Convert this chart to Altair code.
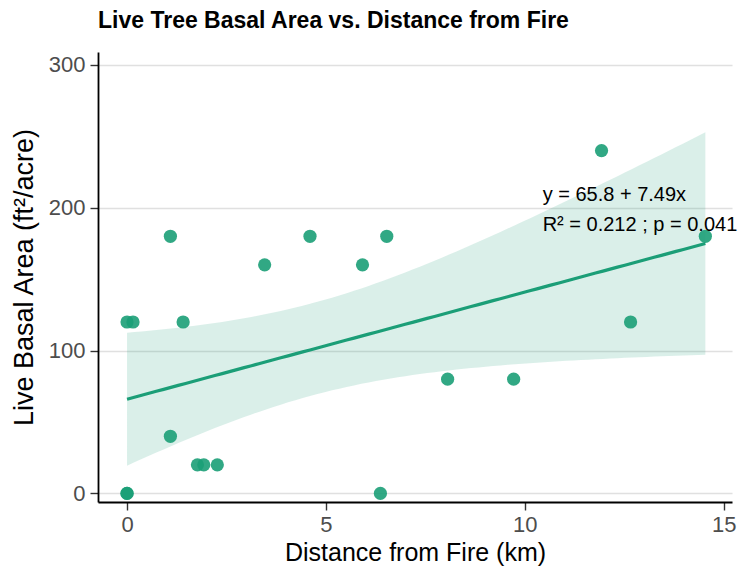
import altair as alt
import numpy as np
import pandas as pd

# ---- data ----
distance_km = [0.0, 0.0, 0.15, 0.0, 1.09, 1.09, 1.41, 1.77, 1.93, 2.27,
               3.46, 4.60, 5.92, 6.37, 6.53, 8.06, 9.72, 11.93, 12.66, 14.54]
basal_area = [0, 120, 120, 0, 180, 40, 120, 20, 20, 20,
              160, 180, 160, 0, 180, 80, 80, 240, 120, 180]

eq_labels = ["y = 65.8 + 7.49x", "R\u00b2 = 0.212 ; p = 0.041"]
eq_x = [10.45, 10.45]
eq_y = [205, 184]

x_ticks = [0, 5, 10, 15]
y_ticks = [0, 100, 200, 300]

GREEN = "#1b9e77"
FONT = "Liberation Sans"

# ---- linear fit with 95% confidence band (like geom_smooth(method="lm")) ----
x = np.array(distance_km, dtype=float)
y = np.array(basal_area, dtype=float)
n = len(x)
b1, b0 = np.polyfit(x, y, 1)
resid = y - (b0 + b1 * x)
s = np.sqrt((resid ** 2).sum() / (n - 2))
sxx = ((x - x.mean()) ** 2).sum()
xs = np.linspace(x.min(), x.max(), 80)
fit = b0 + b1 * xs
t_crit = 2.1009  # t(0.975, df=18)
se = s * np.sqrt(1.0 / n + (xs - x.mean()) ** 2 / sxx)
band_df = pd.DataFrame({"x": xs, "fit": fit, "lo": fit - t_crit * se, "hi": fit + t_crit * se})

pts_df = pd.DataFrame({"distance": distance_km, "basal": basal_area})
eq_df = pd.DataFrame({"x": eq_x, "y": eq_y, "label": eq_labels})

xscale = alt.Scale(domain=[-0.73, 15.21], nice=False, zero=False)
yscale = alt.Scale(domain=[-6, 309], nice=False, zero=False)

x_axis = alt.Axis(values=x_ticks, title="Distance from Fire (km)", grid=False)
y_axis = alt.Axis(values=y_ticks, title="Live Basal Area (ft\u00b2/acre)", grid=True)


def xenc(field):
    return alt.X(f"{field}:Q", scale=xscale, axis=x_axis)


def yenc(field):
    return alt.Y(f"{field}:Q", scale=yscale, axis=y_axis)


band = alt.Chart(band_df).mark_area(color=GREEN, opacity=0.16).encode(
    x=xenc("x"), y=yenc("lo"), y2="hi:Q"
)
line = alt.Chart(band_df).mark_line(color=GREEN, strokeWidth=3.2).encode(
    x=xenc("x"), y=yenc("fit")
)
pts = alt.Chart(pts_df).mark_circle(size=175, color=GREEN, opacity=0.9).encode(
    x=xenc("distance"), y=yenc("basal")
)
eq = alt.Chart(eq_df).mark_text(
    align="left", baseline="alphabetic", fontSize=20, font=FONT, color="black"
).encode(x=xenc("x"), y=yenc("y"), text="label:N")

chart = (
    alt.layer(band, line, pts, eq)
    .properties(
        width=634,
        height=450,
        autosize=alt.AutoSizeParams(type="none"),
        padding={"left": 90, "top": 44, "right": 8, "bottom": 65},
        title=alt.TitleParams(
            "Live Tree Basal Area vs. Distance from Fire",
            anchor="start",
            frame="group",
            font=FONT,
            fontSize=23,
            fontWeight="bold",
            color="black",
            baseline="alphabetic",
            offset=0,
            dy=-1,
        ),
    )
    .configure(font=FONT)
    .configure_view(strokeWidth=0)
    .configure_axis(
        domainColor="black",
        domainWidth=1.8,
        tickColor="#333333",
        tickWidth=1.4,
        tickSize=8,
        labelFont=FONT,
        labelFontSize=22,
        labelColor="#4d4d4d",
        titleFont=FONT,
        titleFontWeight="normal",
        titleColor="black",
        gridColor="#e0e0e0",
        gridWidth=1.6,
    )
    .configure_axisX(labelPadding=4, titleFontSize=25, titlePadding=5)
    .configure_axisY(labelPadding=5, titleFontSize=27, titlePadding=10)
)

chart.save("out.html", embed_options={"renderer": "svg", "actions": False})
